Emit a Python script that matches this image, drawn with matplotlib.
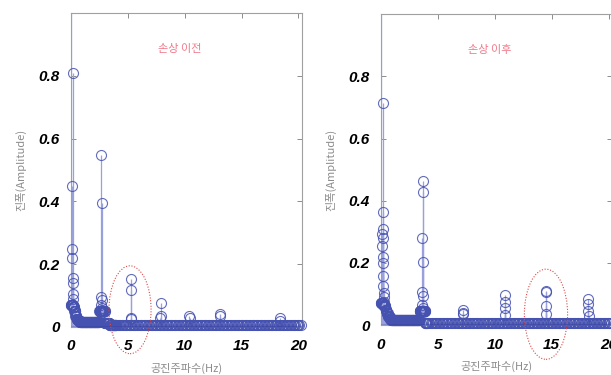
"""Two stem spectra (before / after damage) in MATLAB style."""
import numpy as np
import matplotlib
matplotlib.use("Agg")
import matplotlib.pyplot as plt
from matplotlib.patches import Ellipse

plt.rcParams['font.family'] = ['Noto Sans CJK KR', 'DejaVu Sans']

# ── data ──────────────────────────────────────────────────────────────
# FFT bins (Hz): dense below 4 Hz, sparser where the floor is flat
fine_step, fine_end = 0.02, 4.0
coarse_step = 0.12
x_max = 20.3

# noise floor: band edges (Hz) and level in each band
left_floor_edges = [0.0, 0.1, 0.2, 0.3, 0.4, 0.5, 0.6, 0.7, 0.8, 0.9, 1.0,
                    2.5, 3.0, 3.4, 20.4]
left_floor_level = [0.07, 0.07, 0.065, 0.05, 0.035, 0.027, 0.022, 0.019, 0.017, 0.016,
                    0.015, 0.05, 0.012, 0.006]
right_floor_edges = [0.0, 0.1, 0.2, 0.3, 0.4, 0.5, 0.6, 0.7, 0.8, 0.9, 1.0, 1.1, 1.2,
                     3.4, 3.9, 20.4]
right_floor_level = [0.07, 0.07, 0.065, 0.06, 0.05, 0.04, 0.03, 0.025, 0.021, 0.018, 0.016,
                     0.015, 0.015, 0.045, 0.006]

# DC component (goes past the top of the axes)
dc_amp = 1.3

# visible peaks (Hz, amplitude)
left_peak_f = [0.15, 0.12, 0.14, 0.13, 0.16, 0.18, 0.20, 0.22,
               2.68, 2.70, 2.66, 2.72, 2.64, 2.74, 2.62,
               5.28, 5.30, 5.26, 5.32,
               7.88, 7.90, 7.86,
               10.42, 10.44,
               13.10, 13.12,
               18.40, 18.42]
left_peak_a = [0.81, 0.45, 0.25, 0.22, 0.155, 0.14, 0.105, 0.09,
               0.548, 0.395, 0.095, 0.085, 0.07, 0.06, 0.045,
               0.154, 0.117, 0.03, 0.025,
               0.076, 0.035, 0.028,
               0.034, 0.028,
               0.04, 0.035,
               0.028, 0.02]

right_peak_f = [0.15, 0.14, 0.16, 0.13, 0.17, 0.12, 0.18, 0.19, 0.20, 0.21, 0.22, 0.23, 0.24,
                3.65, 3.66, 3.64, 3.67, 3.63, 3.68, 3.62, 3.69, 3.61,
                7.20, 7.22, 7.18,
                10.90, 10.92, 10.88, 10.94,
                14.50, 14.52, 14.48, 14.54,
                18.20, 18.22, 18.18, 18.24]
right_peak_a = [0.714, 0.365, 0.308, 0.292, 0.28, 0.256, 0.22, 0.20, 0.159, 0.126, 0.103, 0.09, 0.075,
                0.465, 0.429, 0.28, 0.202, 0.105, 0.095, 0.065, 0.055, 0.045,
                0.049, 0.04, 0.035,
                0.097, 0.075, 0.055, 0.033,
                0.110, 0.105, 0.06, 0.035,
                0.083, 0.068, 0.045, 0.03]

x_ticks = [0, 5, 10, 15, 20]
y_ticks = [0, 0.2, 0.4, 0.6, 0.8]
y_tick_labels = ["0", "0.2", "0.4", "0.6", "0.8"]

titles = ["손상 이전", "손상 이후"]
x_label = "공진주파수(Hz)"
y_label = "진폭(Amplitude)"

# highlighted region (centre Hz, centre amp, width Hz, height amp)
left_mark = (5.2, 0.055, 3.7, 0.28)
right_mark = (14.5, 0.035, 3.8, 0.29)

STEM = "#9aa0dc"
MARK = "#4652b0"
BASE = "#1c2a86"
GREY = "#8c8c8c"

fig = plt.figure(figsize=(6.11, 3.75), dpi=100)
ax_l = fig.add_axes([0.116, 0.128, 0.378, 0.837])
ax_r = fig.add_axes([0.6236, 0.133, 0.378, 0.829])

bins = np.concatenate([np.arange(0, fine_end, fine_step),
                       np.arange(fine_end, x_max + 1e-9, coarse_step)])


def floor_amp(edges, levels):
    idx = np.clip(np.searchsorted(edges, bins, side="right") - 1, 0, len(levels) - 1)
    return np.asarray(levels)[idx]


panels = [
    (ax_l, left_floor_edges, left_floor_level, left_peak_f, left_peak_a, titles[0], left_mark),
    (ax_r, right_floor_edges, right_floor_level, right_peak_f, right_peak_a, titles[1], right_mark),
]

for ax, edges, levels, pf, pa, title, mark in panels:
    fl = floor_amp(edges, levels)
    f_all = np.concatenate([[0.0], bins, pf])
    a_all = np.concatenate([[dc_amp], fl, pa])

    ax.vlines(f_all, 0, a_all, color=STEM, lw=0.9, zorder=2)
    vis = a_all <= 1.0
    ax.plot(f_all[vis], a_all[vis], "o", ms=7.2, mfc="none", mec=MARK, mew=0.8,
            alpha=0.85, clip_on=False, zorder=3)
    ax.axhline(0, color=BASE, lw=1.0, zorder=4)

    ax.set_xlim(0, x_max)
    ax.set_ylim(0, 1.0)
    ax.set_xticks(x_ticks)
    ax.set_yticks(y_ticks)
    ax.set_yticklabels(y_tick_labels)
    for lab in ax.get_xticklabels() + ax.get_yticklabels():
        lab.set_family("Liberation Sans")
        lab.set_fontweight("bold")
        lab.set_fontstyle("italic")
        lab.set_fontsize(11)
    ax.tick_params(direction="in", top=True, right=True, length=3.5, width=0.7,
                   color=GREY, pad=8)
    ax.tick_params(axis="x", pad=9)
    for sp in ax.spines.values():
        sp.set_color("#a0a0a0")
        sp.set_linewidth(0.8)

    ax.set_xlabel(x_label, color=GREY, fontsize=8, labelpad=7)
    ax.set_ylabel(y_label, color=GREY, fontsize=8, labelpad=9)
    ax.text(0.47, 0.885, title, transform=ax.transAxes,
            ha="center", va="center", color="#f07888", fontsize=8)

    cx, cy, w, h = mark
    ax.add_patch(Ellipse((cx, cy), w, h, fill=False, ec="#e04848", ls=(0, (1, 1.5)),
                         lw=0.8, clip_on=False, zorder=5))

fig.savefig("out.png", dpi=100)
